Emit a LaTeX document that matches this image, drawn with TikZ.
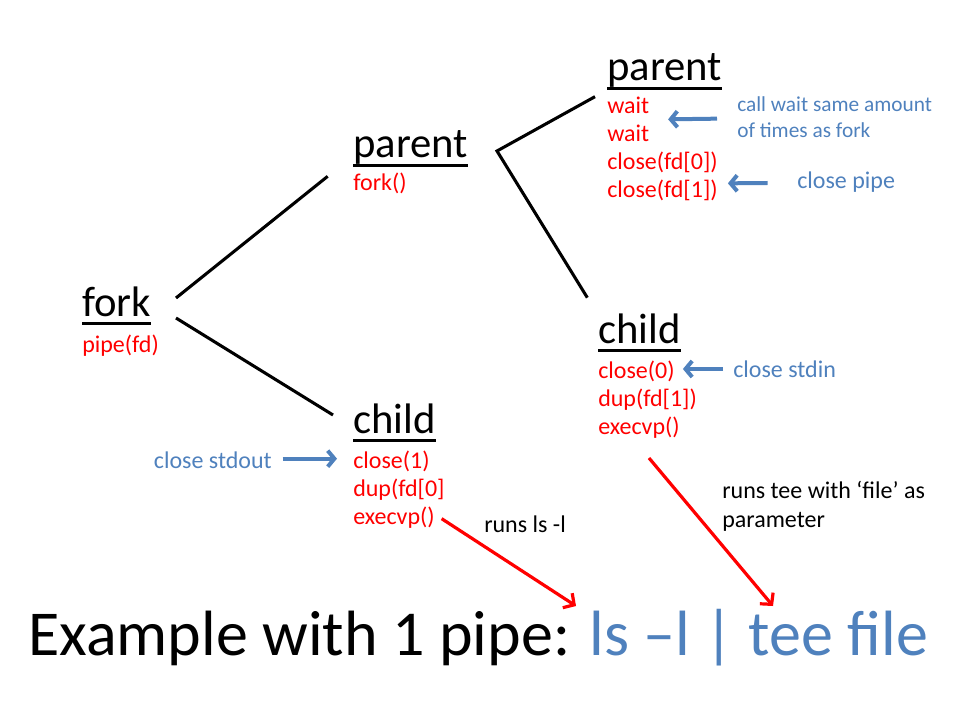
\documentclass[tikz,border=0pt]{standalone}
\usepackage{fontspec}
\setmainfont{Carlito}
\usepackage{xcolor}
\usepackage{tikz}
\usetikzlibrary{positioning,calc,arrows.meta}

\definecolor{noteblue}{RGB}{79,129,189}
\definecolor{cmdred}{RGB}{255,0,0}

% underlined heading word
\newcommand{\ulword}[1]{\setbox0=\hbox{#1}\rlap{\rule[-0.2em]{\wd0}{0.07em}}\box0}

\tikzset{
  head/.style={anchor=base west, inner sep=0pt, font=\fontsize{32}{38}\selectfont},
  cmd/.style={anchor=base west, inner sep=0pt, text=cmdred, font=\fontsize{18}{22}\selectfont},
  note/.style={anchor=base west, inner sep=0pt, text=noteblue, font=\fontsize{18}{22}\selectfont},
  smallnote/.style={note, font=\fontsize{16}{20}\selectfont},
  remark/.style={anchor=base west, inner sep=0pt, font=\fontsize{18}{22}\selectfont},
  tree/.style={line width=2.3pt},
  hint/.style={noteblue, line width=3pt, -{Straight Barb[length=5pt,width=12pt]}},
  runs/.style={cmdred, line width=2.4pt, -{Straight Barb[length=6pt,width=13pt]}}
}

\begin{document}
\begin{tikzpicture}[x=0.75pt,y=-0.75pt]
    \useasboundingbox (0,0) rectangle (960,720);

    % fork
    \node[head] (fork) at (82,316) {\ulword{fork}};
    \node[cmd] (pipe) at (82,352) {pipe(fd)};

    % first parent
    \node[head] (par1) at (353,158) {\ulword{parent}};
    \node[cmd] (par1c1) at (353,191) {fork()};

    % first child
    \node[head] (chd1) at (353,433) {\ulword{child}};
    \foreach \t [count=\i] in {close(1), dup(fd[0], execvp()}
        \node[cmd] (chd1c\i) at (353,440+28*\i) {\t};
    \node[note, anchor=base east] (stdout) at (272,468) {close stdout};
    \draw[hint] ([xshift=8pt,yshift=7pt]stdout.base east) -- ([xshift=-12pt,yshift=7pt]chd1c1.base west);

    % second parent
    \node[head] (par2) at (607,81) {\ulword{parent}};
    \foreach \t [count=\i] in {wait, wait, close(fd[0]), close(fd[1])}
        \node[cmd] (par2c\i) at (607,86+28*\i) {\t};
    \node[smallnote] (waitnote1) at (737,112) {call wait same amount};
    \node[smallnote] (waitnote2) at (737,138) {of times as fork};
    \draw[hint] ([xshift=-15pt,yshift=-5pt]waitnote1.base west) -- ([xshift=14pt,yshift=-4pt]par2c1.base east);
    \node[note] (pipenote) at (797,189) {close pipe};
    \draw[hint] ([xshift=-22pt,yshift=4.5pt]pipenote.base west) -- ([xshift=7.5pt,yshift=11pt]par2c4.base east);

    % second child
    \node[head] (chd2) at (598,343) {\ulword{child}};
    \foreach \t [count=\i] in {close(0), dup(fd[1]), execvp()}
        \node[cmd] (chd2c\i) at (598,350+28*\i) {\t};
    \node[note] (stdin) at (733,377) {close stdin};
    \draw[hint] ([xshift=-7.5pt,yshift=6pt]stdin.base west) -- ([xshift=6pt,yshift=6.75pt]chd2c1.base east);

    % tree
    \coordinate (j1) at (176,298);
    \coordinate (j2) at (176,318);
    \coordinate (j3) at (497,151);
    \draw[tree] (j1) -- ([xshift=-19pt,yshift=11pt]par1c1.base west);
    \draw[tree] (j2) -- ([xshift=-15pt,yshift=13.5pt]chd1.base west);
    \draw[tree, line join=miter] ([xshift=-9pt,yshift=13pt]par2c1.base west) -- (j3) -- ([xshift=-8pt,yshift=34pt]chd2.base west);

    % title
    \node[anchor=base west, inner sep=0pt, font=\fontsize{48}{56}\selectfont] (title) at (28,655)
        {Example with 1 pipe: \textcolor{noteblue}{ls –l | tee file}};

    % what runs
    \node[remark] (lsnote) at (484,532) {runs ls -l};
    \node[remark] (teenote1) at (722,498) {runs tee with ‘file’ as};
    \node[remark] (teenote2) at (722,527) {parameter};
    \coordinate (lsend) at (576,606);
    \coordinate (teeend) at (773,606);
    \draw[runs] ([xshift=5pt,yshift=4pt]chd1c3.base east) -- (lsend);
    \draw[runs] ([xshift=7.5pt,yshift=-18pt]chd2c3.base) -- (teeend);
\end{tikzpicture}
\end{document}
